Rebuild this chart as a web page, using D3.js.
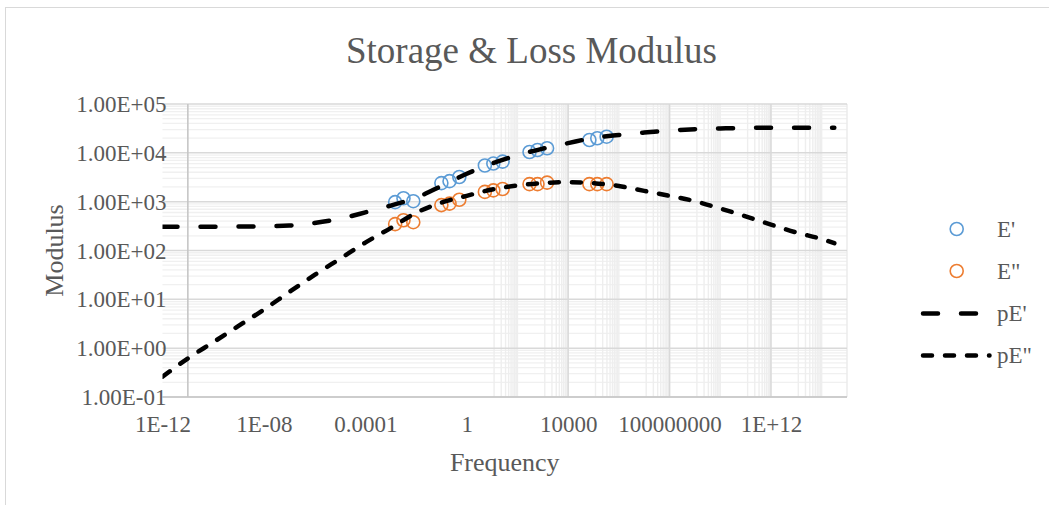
<!DOCTYPE html>
<html>
<head>
<meta charset="utf-8">
<script src="https://cdn.jsdelivr.net/npm/d3@7"></script>
<style>
  body { margin: 0; background: #fff; }
  svg { display: block; }
  text { font-family: "Liberation Serif", "Times New Roman", serif; fill: #595959; }
</style>
</head>
<body>
<svg id="chart" width="1049" height="505"></svg>
<script>
// Measured storage (E') and loss (E'') moduli
const frequency = [0.0015, 0.0032, 0.0078, 0.10, 0.21, 0.51, 5.2, 11.2, 26, 300, 620, 1480, 69000, 141000, 330000];
const storageModulus = [977, 1175, 1023, 2400, 2630, 3200, 5500, 6030, 6610, 10400, 11430, 12400, 18300, 19900, 21400];
const lossModulus = [347, 417, 380, 851, 912, 1096, 1585, 1700, 1820, 2290, 2290, 2455, 2290, 2290, 2290];

// Model predictions (pE', pE'')
const modelFrequency = [1e-12, 1e-11, 1e-10, 1e-9, 1e-8, 1e-7, 1e-6, 1e-5, 1e-4, 1e-3, 1e-2, 1e-1, 1,
  1e1, 1e2, 1e3, 1e4, 1e5, 1e6, 1e7, 1e8, 1e9, 1e10, 1e11, 1e12, 1e13, 1e14, 3.16e14];
const modelStorage = [307, 307, 308, 309, 313, 324, 367, 447, 603, 832, 1200, 2090, 3720,
  6030, 8910, 12200, 15800, 20200, 23200, 26000, 28500, 30500, 31600, 32400, 32700, 32700, 32700, 32700];
const modelLoss = [0.26, 0.617, 1.32, 2.85, 6.17, 14.1, 31.6, 67.6, 145, 288, 589, 955, 1318,
  1778, 2138, 2399, 2512, 2399, 2090, 1660, 1318, 1023, 724, 501, 339, 234, 172, 141];

// Axis ticks
const xTickValues = [1e-12, 1e-8, 1e-4, 1, 1e4, 1e8, 1e12];
const xTickLabels = ["1E-12", "1E-08", "0.0001", "1", "10000", "100000000", "1E+12"];
const yTickValues = [1e-1, 1e0, 1e1, 1e2, 1e3, 1e4, 1e5];
const yTickLabels = ["1.00E-01", "1.00E+00", "1.00E+01", "1.00E+02", "1.00E+03", "1.00E+04", "1.00E+05"];

const seriesNames = ["E'", "E\"", "pE'", "pE\""];
const blue = "#5B9BD5", orange = "#ED7D31";

const svg = d3.select("#chart");
const plot = { left: 162.5, right: 847, top: 104, bottom: 397 };

const x = d3.scaleLog().domain([1e-12, 1e15]).range([plot.left, plot.right]);
const y = d3.scaleLog().domain([1e-1, 1e5]).range([plot.bottom, plot.top]);

// chart border
svg.append("rect").attr("x", 5.5).attr("y", 7.5).attr("width", 1100).attr("height", 600)
  .attr("fill", "#fff").attr("stroke", "#d9d9d9").attr("stroke-width", 1);

svg.append("defs").append("clipPath").attr("id", "plotClip")
  .append("rect").attr("x", plot.left).attr("y", plot.top - 10)
  .attr("width", plot.right - plot.left).attr("height", plot.bottom - plot.top + 20);

const grid = svg.append("g");

// horizontal minor gridlines (2..9 per decade)
const yMinor = [];
for (let e = -1; e < 5; e++) for (let k = 2; k <= 9; k++) yMinor.push(k * Math.pow(10, e));
grid.selectAll(".yminor").data(yMinor).join("line")
  .attr("x1", plot.left).attr("x2", plot.right)
  .attr("y1", d => y(d)).attr("y2", d => y(d))
  .attr("stroke", "#f0f0f0").attr("stroke-width", 1.3);

// vertical minor gridlines (linear subdivisions of each 100x interval)
const xMinor = [];
for (let e = 0; e < 15; e += 2) {
  const lo = Math.pow(10, e);
  for (let j = 1; j <= 8; j++) {
    const v = lo * (1 + j * 99 / 9);
    if (v < 1e15) xMinor.push(v);
  }
  const hi = lo * 100;
  if (hi < 1e15) xMinor.push(hi);
}
grid.selectAll(".xminor").data(xMinor).join("line")
  .attr("x1", d => x(d)).attr("x2", d => x(d))
  .attr("y1", plot.top).attr("y2", plot.bottom)
  .attr("stroke", "#eeeeee").attr("stroke-width", 1.4);

// right edge
grid.append("line").attr("x1", plot.right).attr("x2", plot.right)
  .attr("y1", plot.top).attr("y2", plot.bottom)
  .attr("stroke", "#eaeaea").attr("stroke-width", 1.4);

// vertical major gridlines
const xMajor = [1e4, 1e8, 1e12];
grid.selectAll(".xmajor").data(xMajor).join("line")
  .attr("x1", d => x(d)).attr("x2", d => x(d))
  .attr("y1", plot.top).attr("y2", plot.bottom)
  .attr("stroke", "#d9d9d9").attr("stroke-width", 1.5);

// horizontal major gridlines
grid.selectAll(".ymajor").data(yTickValues).join("line")
  .attr("x1", plot.left).attr("x2", plot.right)
  .attr("y1", d => y(d)).attr("y2", d => y(d))
  .attr("stroke", "#d9d9d9").attr("stroke-width", 1.5);

// axis lines
svg.append("line").attr("x1", x(1e-11)).attr("x2", x(1e-11))
  .attr("y1", plot.top).attr("y2", plot.bottom)
  .attr("stroke", "#c6c6c6").attr("stroke-width", 1.6);
svg.append("line").attr("x1", plot.left).attr("x2", plot.right)
  .attr("y1", plot.bottom).attr("y2", plot.bottom)
  .attr("stroke", "#c6c6c6").attr("stroke-width", 1.6);

// axes labels
const xAxis = svg.append("g").attr("transform", `translate(0,${plot.bottom})`)
  .call(d3.axisBottom(x).tickValues(xTickValues).tickFormat((d, i) => xTickLabels[i]).tickSize(0));
xAxis.select(".domain").remove();
xAxis.selectAll("text").attr("y", 35).attr("dy", 0)
  .style("font-family", "Liberation Serif").style("font-size", "23px").attr("fill", "#595959");

const yAxis = svg.append("g").attr("transform", `translate(${plot.left},0)`)
  .call(d3.axisLeft(y).tickValues(yTickValues).tickFormat((d, i) => yTickLabels[i]).tickSize(0));
yAxis.select(".domain").remove();
yAxis.selectAll("text").attr("x", 4).attr("dy", "0.33em")
  .style("font-family", "Liberation Serif").style("font-size", "23px").attr("fill", "#595959");

// titles
svg.append("text").attr("x", 531.5).attr("y", 63).attr("text-anchor", "middle")
  .style("font-size", "37px").text("Storage & Loss Modulus");
svg.append("text").attr("x", (plot.left + plot.right) / 2).attr("y", 471).attr("text-anchor", "middle")
  .style("font-size", "26px").text("Frequency");
svg.append("text").attr("transform", `translate(63,${(plot.top + plot.bottom) / 2}) rotate(-90)`)
  .attr("text-anchor", "middle").style("font-size", "26px").text("Modulus");

// measured points
const markerR = 6.5;
const pts = svg.append("g");
pts.selectAll(".eStorage").data(frequency).join("circle")
  .attr("cx", d => x(d)).attr("cy", (d, i) => y(storageModulus[i])).attr("r", markerR)
  .attr("fill", "none").attr("stroke", blue).attr("stroke-width", 1.6);
pts.selectAll(".eLoss").data(frequency).join("circle")
  .attr("cx", d => x(d)).attr("cy", (d, i) => y(lossModulus[i])).attr("r", markerR)
  .attr("fill", "none").attr("stroke", orange).attr("stroke-width", 1.6);

// model curves
const line = vals => d3.line().x(d => x(d)).y((d, i) => y(vals[i])).curve(d3.curveMonotoneX);
const curves = svg.append("g").attr("clip-path", "url(#plotClip)");
curves.append("path").datum(modelFrequency).attr("d", line(modelStorage))
  .attr("fill", "none").attr("stroke", "#000").attr("stroke-width", 4.5)
  .attr("stroke-linecap", "round").attr("stroke-dasharray", "15 23");
curves.append("path").datum(modelFrequency).attr("d", line(modelLoss))
  .attr("fill", "none").attr("stroke", "#000").attr("stroke-width", 4.5)
  .attr("stroke-linecap", "round").attr("stroke-dasharray", "9 13");

// legend
const legend = svg.append("g");
const legendY = [229, 271, 313.5, 355.5];
legend.append("circle").attr("cx", 956.7).attr("cy", legendY[0]).attr("r", markerR)
  .attr("fill", "none").attr("stroke", blue).attr("stroke-width", 1.6);
legend.append("circle").attr("cx", 956.7).attr("cy", legendY[1]).attr("r", markerR)
  .attr("fill", "none").attr("stroke", orange).attr("stroke-width", 1.6);
legend.append("line").attr("x1", 923).attr("x2", 978).attr("y1", legendY[2]).attr("y2", legendY[2])
  .attr("stroke", "#000").attr("stroke-width", 4.5).attr("stroke-linecap", "round")
  .attr("stroke-dasharray", "15 23");
legend.append("line").attr("x1", 923).attr("x2", 989.5).attr("y1", legendY[3]).attr("y2", legendY[3])
  .attr("stroke", "#000").attr("stroke-width", 4.5).attr("stroke-linecap", "round")
  .attr("stroke-dasharray", "9 13");
legend.selectAll(".lt").data(seriesNames).join("text")
  .attr("x", 997).attr("y", (d, i) => legendY[i]).attr("dy", "0.33em")
  .style("font-size", "23px").text(d => d);
</script>
</body>
</html>
